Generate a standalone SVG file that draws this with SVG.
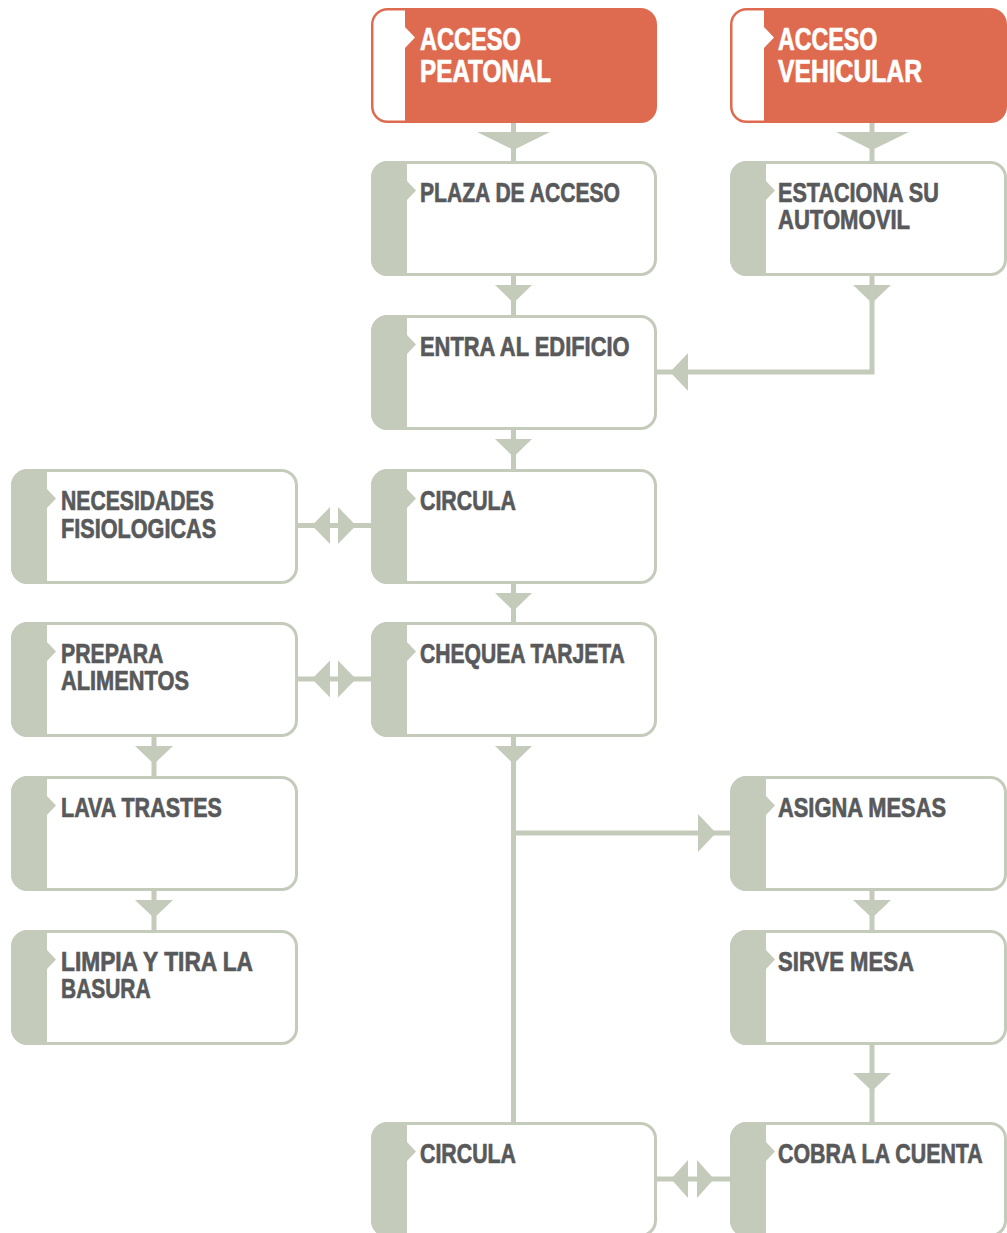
<svg xmlns="http://www.w3.org/2000/svg" width="1007" height="1233" viewBox="0 0 1007 1233">
<style>
.box{fill:#ffffff;stroke:#c5cbbb;stroke-width:3}
.band{fill:#c5cbbb}
.obox{fill:#de6b50;stroke:#de6b50;stroke-width:3}
.oband{fill:#ffffff}
.t{font-family:"Liberation Sans",Arial,sans-serif;font-weight:bold;font-size:28px;fill:#58595b;stroke:#58595b;stroke-width:0.7}
.ot{font-family:"Liberation Sans",Arial,sans-serif;font-weight:bold;font-size:30.5px;fill:#ffffff;stroke:#ffffff;stroke-width:0.7}
.ln{stroke:#c5cbbb;stroke-width:5;fill:none}
.ah{fill:#c5cbbb}
</style>
<rect width="1007" height="1233" fill="#ffffff"/>
<g id="connectors">
  <line class="ln" x1="513.5" y1="122" x2="513.5" y2="162"/>
  <polygon class="ah" points="477,132 550,132 513.5,150"/>
  <line class="ln" x1="872" y1="122" x2="872" y2="162"/>
  <polygon class="ah" points="836,132 909,132 872,150"/>
  <line class="ln" x1="513.5" y1="275" x2="513.5" y2="316"/>
  <polygon class="ah" points="495,285 532,285 513.5,303"/>
  <polyline class="ln" points="872,275 872,372 656,372"/>
  <polygon class="ah" points="853,285 891,285 872,303"/>
  <polygon class="ah" points="688,353 688,391 670,372"/>
  <line class="ln" x1="513.5" y1="429" x2="513.5" y2="470"/>
  <polygon class="ah" points="495,439 532,439 513.5,457"/>
  <line class="ln" x1="513.5" y1="583" x2="513.5" y2="623"/>
  <polygon class="ah" points="495,593 532,593 513.5,611"/>
  <line class="ln" x1="297" y1="525.5" x2="372" y2="525.5"/>
  <polygon class="ah" points="330,507 330,544 312,525.5"/>
  <polygon class="ah" points="338,507 338,544 356,525.5"/>
  <line class="ln" x1="297" y1="679" x2="372" y2="679"/>
  <polygon class="ah" points="330,660.5 330,697.5 312,679"/>
  <polygon class="ah" points="338,660.5 338,697.5 356,679"/>
  <line class="ln" x1="154" y1="736" x2="154" y2="777"/>
  <polygon class="ah" points="135,746 173,746 154,764"/>
  <line class="ln" x1="154" y1="890" x2="154" y2="931"/>
  <polygon class="ah" points="135,900 173,900 154,918"/>
  <line class="ln" x1="513.5" y1="736" x2="513.5" y2="1123"/>
  <polygon class="ah" points="495,746 532,746 513.5,764"/>
  <line class="ln" x1="513.5" y1="833" x2="731" y2="833"/>
  <polygon class="ah" points="698,814 698,852 716,833"/>
  <line class="ln" x1="872" y1="890" x2="872" y2="931"/>
  <polygon class="ah" points="853,900 891,900 872,918"/>
  <line class="ln" x1="872" y1="1044" x2="872" y2="1123"/>
  <polygon class="ah" points="853,1073 891,1073 872,1091"/>
  <line class="ln" x1="656" y1="1179" x2="731" y2="1179"/>
  <polygon class="ah" points="688,1160 688,1198 671,1179"/>
  <polygon class="ah" points="697,1160 697,1198 714,1179"/>
</g>
<g id="acceso-peatonal">
  <rect class="obox" x="372.5" y="9.5" width="283" height="112" rx="15"/>
  <path class="oband" d="M387.5,10.5 H405 V27 L415,37.5 L405,48 V120.5 H387.5 A14 14 0 0 1 373.5,106.5 V24.5 A14 14 0 0 1 387.5,10.5 Z"/>
  <text class="ot" transform="translate(420,50) scale(0.8,1)" textLength="126" lengthAdjust="spacingAndGlyphs">ACCESO</text>
  <text class="ot" transform="translate(420,82) scale(0.8,1)" textLength="164" lengthAdjust="spacingAndGlyphs">PEATONAL</text>
</g>
<g id="acceso-vehicular">
  <rect class="obox" x="731.5" y="9.5" width="274" height="112" rx="15"/>
  <path class="oband" d="M746.5,10.5 H764 V27 L774,37.5 L764,48 V120.5 H746.5 A14 14 0 0 1 732.5,106.5 V24.5 A14 14 0 0 1 746.5,10.5 Z"/>
  <text class="ot" transform="translate(778,50) scale(0.8,1)" textLength="124" lengthAdjust="spacingAndGlyphs">ACCESO</text>
  <text class="ot" transform="translate(778,82) scale(0.8,1)" textLength="180" lengthAdjust="spacingAndGlyphs">VEHICULAR</text>
</g>
<g id="plaza-de-acceso">
  <rect class="box" x="372.5" y="162.5" width="283" height="112" rx="15"/>
  <path class="band" d="M388,161 H407 V181 L416,190.5 L407,200 V276 H388 A17 17 0 0 1 371,259 V178 A17 17 0 0 1 388,161 Z"/>
  <text class="t" transform="translate(420,202) scale(0.8,1)" textLength="250" lengthAdjust="spacingAndGlyphs">PLAZA DE ACCESO</text>
</g>
<g id="estaciona">
  <rect class="box" x="731.5" y="162.5" width="274" height="112" rx="15"/>
  <path class="band" d="M747,161 H766 V181 L775,190.5 L766,200 V276 H747 A17 17 0 0 1 730,259 V178 A17 17 0 0 1 747,161 Z"/>
  <text class="t" transform="translate(778,202) scale(0.8,1)" textLength="201" lengthAdjust="spacingAndGlyphs">ESTACIONA SU</text>
  <text class="t" transform="translate(778,229) scale(0.8,1)" textLength="165" lengthAdjust="spacingAndGlyphs">AUTOMOVIL</text>
</g>
<g id="entra-al-edificio">
  <rect class="box" x="372.5" y="316.5" width="283" height="112" rx="15"/>
  <path class="band" d="M388,315 H407 V335 L416,344.5 L407,354 V430 H388 A17 17 0 0 1 371,413 V332 A17 17 0 0 1 388,315 Z"/>
  <text class="t" transform="translate(420,356) scale(0.8,1)" textLength="262" lengthAdjust="spacingAndGlyphs">ENTRA AL EDIFICIO</text>
</g>
<g id="necesidades">
  <rect class="box" x="12.5" y="470.5" width="284" height="112" rx="15"/>
  <path class="band" d="M28,469 H47 V489 L56,498.5 L47,508 V584 H28 A17 17 0 0 1 11,567 V486 A17 17 0 0 1 28,469 Z"/>
  <text class="t" transform="translate(61,510) scale(0.8,1)" textLength="191" lengthAdjust="spacingAndGlyphs">NECESIDADES</text>
  <text class="t" transform="translate(61,538) scale(0.8,1)" textLength="194" lengthAdjust="spacingAndGlyphs">FISIOLOGICAS</text>
</g>
<g id="circula-1">
  <rect class="box" x="372.5" y="470.5" width="283" height="112" rx="15"/>
  <path class="band" d="M388,469 H407 V489 L416,498.5 L407,508 V584 H388 A17 17 0 0 1 371,567 V486 A17 17 0 0 1 388,469 Z"/>
  <text class="t" transform="translate(420,510) scale(0.8,1)" textLength="120" lengthAdjust="spacingAndGlyphs">CIRCULA</text>
</g>
<g id="prepara-alimentos">
  <rect class="box" x="12.5" y="623.5" width="284" height="112" rx="15"/>
  <path class="band" d="M28,622 H47 V642 L56,651.5 L47,661 V737 H28 A17 17 0 0 1 11,720 V639 A17 17 0 0 1 28,622 Z"/>
  <text class="t" transform="translate(61,663) scale(0.8,1)" textLength="128" lengthAdjust="spacingAndGlyphs">PREPARA</text>
  <text class="t" transform="translate(61,690) scale(0.8,1)" textLength="160" lengthAdjust="spacingAndGlyphs">ALIMENTOS</text>
</g>
<g id="chequea-tarjeta">
  <rect class="box" x="372.5" y="623.5" width="283" height="112" rx="15"/>
  <path class="band" d="M388,622 H407 V642 L416,651.5 L407,661 V737 H388 A17 17 0 0 1 371,720 V639 A17 17 0 0 1 388,622 Z"/>
  <text class="t" transform="translate(420,663) scale(0.8,1)" textLength="256" lengthAdjust="spacingAndGlyphs">CHEQUEA TARJETA</text>
</g>
<g id="lava-trastes">
  <rect class="box" x="12.5" y="777.5" width="284" height="112" rx="15"/>
  <path class="band" d="M28,776 H47 V796 L56,805.5 L47,815 V891 H28 A17 17 0 0 1 11,874 V793 A17 17 0 0 1 28,776 Z"/>
  <text class="t" transform="translate(61,817) scale(0.8,1)" textLength="201" lengthAdjust="spacingAndGlyphs">LAVA TRASTES</text>
</g>
<g id="asigna-mesas">
  <rect class="box" x="731.5" y="777.5" width="274" height="112" rx="15"/>
  <path class="band" d="M747,776 H766 V796 L775,805.5 L766,815 V891 H747 A17 17 0 0 1 730,874 V793 A17 17 0 0 1 747,776 Z"/>
  <text class="t" transform="translate(778,817) scale(0.8,1)" textLength="210" lengthAdjust="spacingAndGlyphs">ASIGNA MESAS</text>
</g>
<g id="limpia-basura">
  <rect class="box" x="12.5" y="931.5" width="284" height="112" rx="15"/>
  <path class="band" d="M28,930 H47 V950 L56,959.5 L47,969 V1045 H28 A17 17 0 0 1 11,1028 V947 A17 17 0 0 1 28,930 Z"/>
  <text class="t" transform="translate(61,971) scale(0.8,1)" textLength="240" lengthAdjust="spacingAndGlyphs">LIMPIA Y TIRA LA</text>
  <text class="t" transform="translate(61,998) scale(0.8,1)" textLength="112" lengthAdjust="spacingAndGlyphs">BASURA</text>
</g>
<g id="sirve-mesa">
  <rect class="box" x="731.5" y="931.5" width="274" height="112" rx="15"/>
  <path class="band" d="M747,930 H766 V950 L775,959.5 L766,969 V1045 H747 A17 17 0 0 1 730,1028 V947 A17 17 0 0 1 747,930 Z"/>
  <text class="t" transform="translate(778,971) scale(0.8,1)" textLength="170" lengthAdjust="spacingAndGlyphs">SIRVE MESA</text>
</g>
<g id="circula-2">
  <rect class="box" x="372.5" y="1123.5" width="283" height="112" rx="15"/>
  <path class="band" d="M388,1122 H407 V1142 L416,1151.5 L407,1161 V1237 H388 A17 17 0 0 1 371,1220 V1139 A17 17 0 0 1 388,1122 Z"/>
  <text class="t" transform="translate(420,1163) scale(0.8,1)" textLength="120" lengthAdjust="spacingAndGlyphs">CIRCULA</text>
</g>
<g id="cobra-la-cuenta">
  <rect class="box" x="731.5" y="1123.5" width="274" height="112" rx="15"/>
  <path class="band" d="M747,1122 H766 V1142 L775,1151.5 L766,1161 V1237 H747 A17 17 0 0 1 730,1220 V1139 A17 17 0 0 1 747,1122 Z"/>
  <text class="t" transform="translate(778,1163) scale(0.8,1)" textLength="256" lengthAdjust="spacingAndGlyphs">COBRA LA CUENTA</text>
</g>
</svg>
